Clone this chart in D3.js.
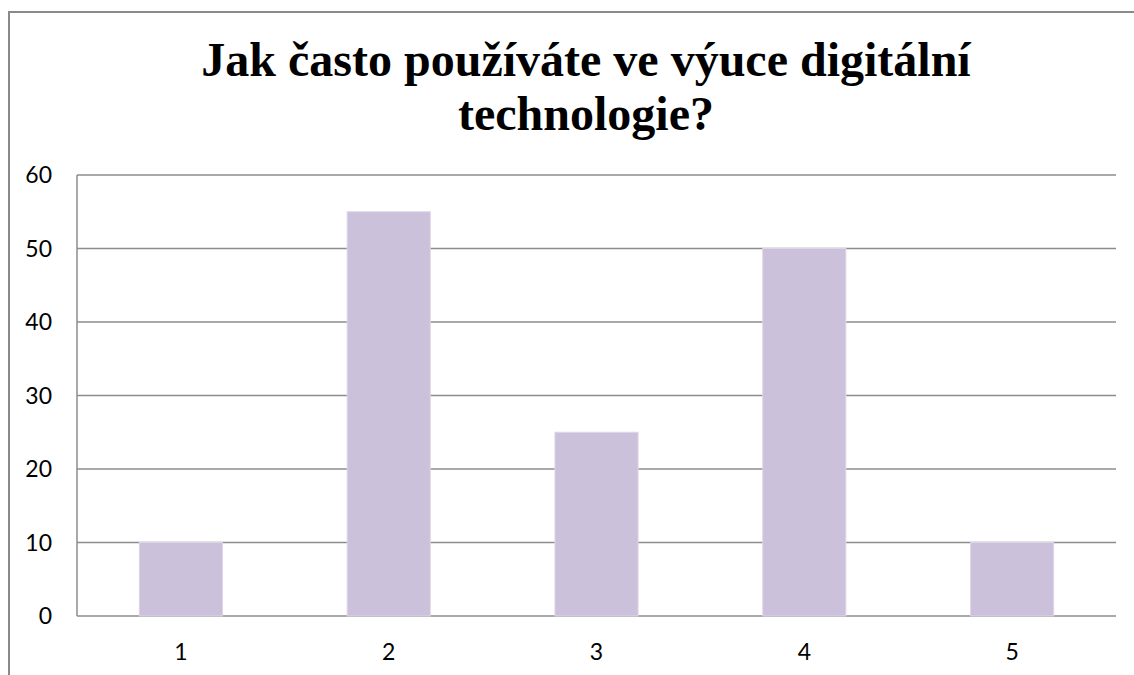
<!DOCTYPE html>
<html>
<head>
<meta charset="utf-8">
<script src="https://cdn.jsdelivr.net/npm/d3@7"></script>
<style>
  body { margin: 0; background: #fff; }
  svg { display: block; }
</style>
</head>
<body>
<div id="chart"></div>
<script>
const categories = ['1', '2', '3', '4', '5'];
const values = [10, 55, 25, 50, 10];
const yTicks = [0, 10, 20, 30, 40, 50, 60];
const titleLines = ['Jak často používáte ve výuce digitální', 'technologie?'];

const width = 1134, height = 675;
const margin = {top: 175, right: 18, bottom: 59, left: 77};

const svg = d3.select('#chart').append('svg')
  .attr('width', width)
  .attr('height', height);

// outer frame (right/bottom run off the picture)
svg.append('path')
  .attr('d', `M9,${height} V12 H${width}`)
  .attr('fill', 'none')
  .attr('stroke', '#8a8a8a')
  .attr('stroke-width', 2);

svg.append('text')
  .attr('x', 586)
  .attr('y', 76)
  .attr('text-anchor', 'middle')
  .style('font-family', '"Liberation Serif", "Times New Roman", serif')
  .style('font-weight', 'bold')
  .style('font-size', '48px')
  .selectAll('tspan')
  .data(titleLines)
  .join('tspan')
  .attr('x', 586)
  .attr('dy', (d, i) => i ? 54 : 0)
  .text(d => d);

const plotW = width - margin.left - margin.right;
const plotH = height - margin.top - margin.bottom;

const plot = svg.append('g')
  .attr('transform', `translate(${margin.left},${margin.top})`);

const x = d3.scaleBand().domain(categories).range([0, plotW]).paddingInner(0.6).paddingOuter(0.3);
const y = d3.scaleLinear().domain([0, 60]).range([plotH, 0]);

// gridlines
plot.append('g')
  .selectAll('line')
  .data(yTicks)
  .join('line')
  .attr('x1', 0)
  .attr('x2', plotW)
  .attr('y1', d => y(d))
  .attr('y2', d => y(d))
  .attr('stroke', '#8c8c8c')
  .attr('stroke-width', 1.5);

plot.append('line')
  .attr('x1', 0).attr('x2', 0)
  .attr('y1', 0).attr('y2', plotH)
  .attr('stroke', '#8c8c8c')
  .attr('stroke-width', 1.5);

plot.selectAll('.bar')
  .data(values)
  .join('rect')
  .attr('class', 'bar')
  .attr('x', (d, i) => x(categories[i]))
  .attr('width', x.bandwidth())
  .attr('y', d => y(d))
  .attr('height', d => y(0) - y(d))
  .attr('fill', '#cbc1db')
  .attr('stroke', '#ddd5e7')
  .attr('stroke-width', 1);

const labelFont = 'Lato, "Open Sans", sans-serif';

plot.append('g')
  .selectAll('text')
  .data(yTicks)
  .join('text')
  .attr('x', -25)
  .attr('y', d => y(d))
  .attr('dy', '0.36em')
  .attr('text-anchor', 'end')
  .style('font-family', labelFont)
  .style('font-size', '23px')
  .text(d => d);

plot.append('g')
  .selectAll('text')
  .data(categories)
  .join('text')
  .attr('x', d => x(d) + x.bandwidth() / 2)
  .attr('y', plotH + 44)
  .attr('text-anchor', 'middle')
  .style('font-family', labelFont)
  .style('font-size', '23px')
  .text(d => d);
</script>
</body>
</html>
